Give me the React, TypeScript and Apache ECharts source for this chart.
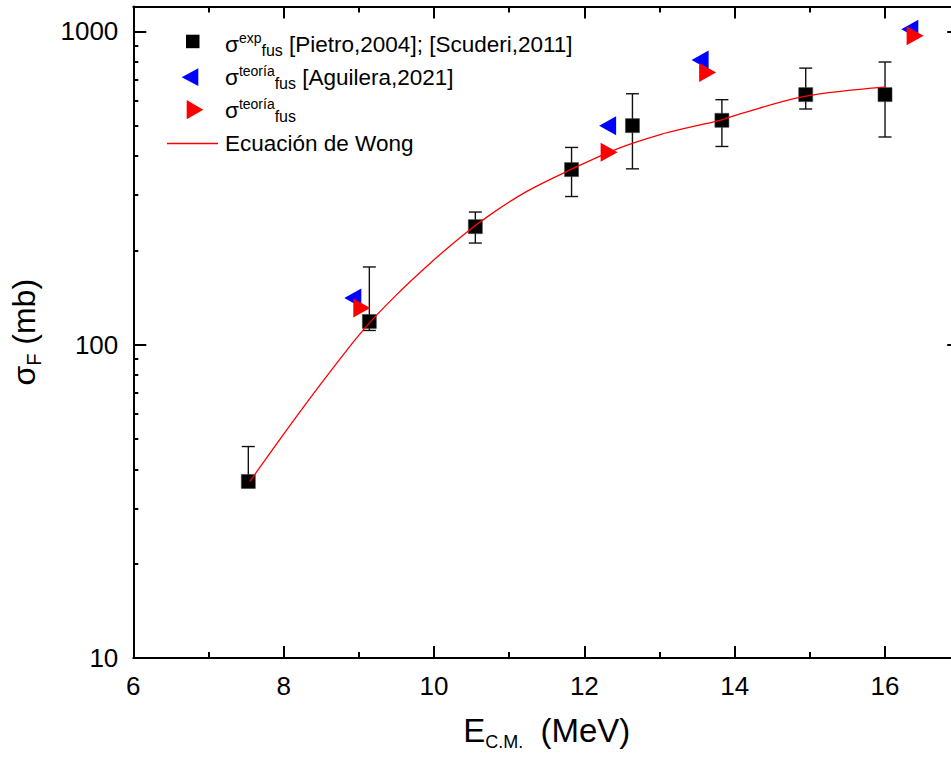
import React, { useEffect, useRef } from "react";
import * as echarts from "echarts";

// ---- data ----
const X_EXP = [7.53, 9.14, 10.55, 11.83, 12.64, 13.83, 14.945, 16.0];
const Y_EXP = [36.6, 118.6, 238, 362, 500, 520, 628, 628];
const Y_EXP_LOW = [35.0, 111, 211, 297, 364, 429, 565, 460];
const Y_EXP_HIGH = [47.3, 177, 265, 426, 632, 605, 763, 798];

const X_AGUILERA = [8.92, 12.31, 13.54, 16.33];
const Y_AGUILERA = [141, 500, 810, 1015];

const X_TEORIA = [9.04, 12.33, 13.64, 16.4];
const Y_TEORIA = [131, 411, 739, 968];

const X_WONG = [7.55, 8.17, 8.62, 9.08, 9.5, 9.95, 10.39, 10.75, 11.23, 11.83, 12.43, 13.01, 13.45, 13.83, 14.07, 14.93, 15.99];
const Y_WONG = [36.6, 58.9, 82.0, 112.9, 144.2, 182, 224, 260, 308, 363, 421, 468, 497, 522, 545, 620, 664];

const X_MAJOR_TICKS = [6, 8, 10, 12, 14, 16];
const Y_MAJOR_TICKS = [10, 100, 1000];
const Y_MINOR_TICKS = [20, 30, 40, 50, 60, 70, 80, 90, 200, 300, 400, 500, 600, 700, 800, 900];

const FONT = "'Liberation Sans', Arial, Helvetica, sans-serif";

const CHART_W = 975; // wider than the window: the right frame edge lies just outside the picture
const CHART_H = 760;

export default function App() {
  const ref = useRef<HTMLDivElement>(null);

  useEffect(() => {
    if (!ref.current) return;
    const chart = echarts.init(ref.current, undefined, { renderer: "svg" });

    const axisLine = { show: true, onZero: false, lineStyle: { color: "#000", width: 2 } };
    const noLine = { show: false, onZero: false };
    const xBase = { type: "value", min: 6, max: 17, splitLine: { show: false } };
    const yBase = { type: "log", logBase: 10, min: 10, max: 1200, splitLine: { show: false } };
    const majTickX = { show: true, inside: true, length: 12, lineStyle: { color: "#000", width: 2 }, customValues: X_MAJOR_TICKS };
    const minTickX = { show: true, inside: true, length: 6, lineStyle: { color: "#000", width: 2 } };
    const majTickY = { show: true, inside: true, length: 13, lineStyle: { color: "#000", width: 2 }, customValues: Y_MAJOR_TICKS };
    const minTickY = { show: true, inside: true, length: 5, lineStyle: { color: "#000", width: 2 }, customValues: Y_MINOR_TICKS };

    const nameRichX = {
      m: { fontSize: 33, lineHeight: 40, fontFamily: FONT, color: "#000" },
      s: { fontSize: 18, lineHeight: 19.5, verticalAlign: "bottom", padding: [0, 8, 0, 0], fontFamily: FONT, color: "#000" },
    };
    const nameRichY = {
      m: { fontSize: 32, lineHeight: 40, fontFamily: FONT, color: "#000" },
      s: { fontSize: 20, lineHeight: 18.3, verticalAlign: "bottom", fontFamily: FONT, color: "#000" },
    };

    const legRich = {
      m: { fontSize: 22.5, lineHeight: 28, fontFamily: FONT, fill: "#000" },
      sup: { fontSize: 14, lineHeight: 11.9, verticalAlign: "top", fontFamily: FONT, fill: "#000" },
      sub: { fontSize: 16, lineHeight: 15.5, verticalAlign: "bottom", fontFamily: FONT, fill: "#000" },
    };
    const legText = (y: number, text: string) => ({
      type: "text",
      x: 225,
      y,
      z: 100,
      style: { text, rich: legRich, align: "left", verticalAlign: "middle", fontFamily: FONT, fontSize: 22.5, fill: "#000" },
    });

    const option: any = {
      animation: false,
      backgroundColor: "#fff",
      textStyle: { fontFamily: FONT, color: "#000" },
      grid: { left: 133.3, right: CHART_W - 960.2, top: 6.5, bottom: CHART_H - 658 },
      xAxis: [
        {
          ...xBase,
          position: "bottom",
          axisLine,
          axisTick: majTickX,
          axisLabel: {
            customValues: X_MAJOR_TICKS,
            fontSize: 26,
            color: "#000",
            margin: 14.5,
            fontFamily: FONT,
            formatter: (v: number) => String(v),
          },
          name: "{m|E}{s|C.M.}{m| (MeV)}",
          nameLocation: "middle",
          nameGap: 52.5,
          nameTextStyle: { rich: nameRichX, fontSize: 33, color: "#000", fontFamily: FONT },
        },
        { ...xBase, position: "bottom", interval: 1, axisLine: noLine, axisTick: minTickX, axisLabel: { show: false } },
        { ...xBase, position: "top", axisLine, axisTick: majTickX, axisLabel: { show: false } },
        { ...xBase, position: "top", interval: 1, axisLine: noLine, axisTick: minTickX, axisLabel: { show: false } },
      ],
      yAxis: [
        {
          ...yBase,
          position: "left",
          axisLine,
          axisTick: majTickY,
          axisLabel: {
            customValues: Y_MAJOR_TICKS,
            fontSize: 26,
            color: "#000",
            margin: 15,
            fontFamily: FONT,
            formatter: (v: number) => String(Math.round(v)),
          },
          name: "{m|σ}{s|F}{m| (mb)}",
          nameLocation: "middle",
          nameGap: 89,
          nameTextStyle: { rich: nameRichY, fontSize: 32, color: "#000", fontFamily: FONT },
        },
        { ...yBase, position: "left", axisLine: noLine, axisTick: minTickY, axisLabel: { show: false } },
        { ...yBase, position: "right", axisLine, axisTick: majTickY, axisLabel: { show: false } },
        { ...yBase, position: "right", axisLine: noLine, axisTick: minTickY, axisLabel: { show: false } },
      ],
      series: [
        {
          type: "custom",
          name: "error",
          xAxisIndex: 0,
          yAxisIndex: 0,
          z: 1,
          encode: { x: 0, y: [1, 2] },
          data: X_EXP.map((x, i) => [x, Y_EXP_LOW[i], Y_EXP_HIGH[i]]),
          renderItem: (params: any, api: any) => {
            const x = api.value(0);
            const pLo = api.coord([x, api.value(1)]);
            const pHi = api.coord([x, api.value(2)]);
            const hw = 6.5;
            const style = { stroke: "#111", lineWidth: 1.4 };
            return {
              type: "group",
              children: [
                { type: "line", shape: { x1: pLo[0], y1: pLo[1], x2: pHi[0], y2: pHi[1] }, style },
                { type: "line", shape: { x1: pHi[0] - hw, y1: pHi[1], x2: pHi[0] + hw, y2: pHi[1] }, style },
                { type: "line", shape: { x1: pLo[0] - hw, y1: pLo[1], x2: pLo[0] + hw, y2: pLo[1] }, style },
              ],
            };
          },
        },
        {
          type: "scatter",
          name: "exp",
          z: 2,
          symbol: "rect",
          symbolSize: 14,
          itemStyle: { color: "#000", borderColor: "#444", borderWidth: 0.6, opacity: 1 },
          data: X_EXP.map((x, i) => [x, Y_EXP[i]]),
        },
        {
          type: "line",
          name: "Ecuación de Wong",
          z: 3,
          symbol: "none",
          showSymbol: false,
          smooth: 0.35,
          lineStyle: { color: "#ff0000", width: 1.3 },
          data: X_WONG.map((x, i) => [x, Y_WONG[i]]),
        },
        {
          type: "scatter",
          name: "Aguilera",
          z: 4,
          symbol: "triangle",
          symbolSize: [19, 17],
          symbolRotate: 90,
          itemStyle: { color: "#0000ff", opacity: 1 },
          data: X_AGUILERA.map((x, i) => [x, Y_AGUILERA[i]]),
        },
        {
          type: "scatter",
          name: "teoria",
          z: 5,
          symbol: "triangle",
          symbolSize: [19, 17],
          symbolRotate: -90,
          itemStyle: { color: "#ff0000", opacity: 1 },
          data: X_TEORIA.map((x, i) => [x, Y_TEORIA[i]]),
        },
      ],
      graphic: [
        { type: "rect", z: 100, shape: { x: 186, y: 34.7, width: 13.5, height: 13.5 }, style: { fill: "#000" } },
        { type: "polygon", z: 100, shape: { points: [[181.7, 77.2], [198.3, 68.3], [198.3, 86.1]] }, style: { fill: "#0000ff" } },
        { type: "polygon", z: 100, shape: { points: [[186.7, 100.1], [203.3, 109.7], [186.7, 119.3]] }, style: { fill: "#ff0000" } },
        { type: "line", z: 100, shape: { x1: 167, y1: 143.5, x2: 218, y2: 143.5 }, style: { stroke: "#ff0000", lineWidth: 1.3 } },
        legText(44.9, "{m|σ}{sup|exp}{sub|fus}{m| [Pietro,2004]; [Scuderi,2011]}"),
        legText(77.5, "{m|σ}{sup|teoría}{sub|fus}{m| [Aguilera,2021]}"),
        legText(110.5, "{m|σ}{sup|teoría}{sub|fus}"),
        legText(143.7, "{m|Ecuación de Wong}"),
      ],
    };

    chart.setOption(option);
    return () => chart.dispose();
  }, []);

  return (
    <div
      style={{
        position: "absolute",
        left: 0,
        top: 0,
        width: 951,
        height: CHART_H,
        overflow: "hidden",
        background: "#fff",
      }}
    >
      <div ref={ref} style={{ width: CHART_W, height: CHART_H }} />
    </div>
  );
}
